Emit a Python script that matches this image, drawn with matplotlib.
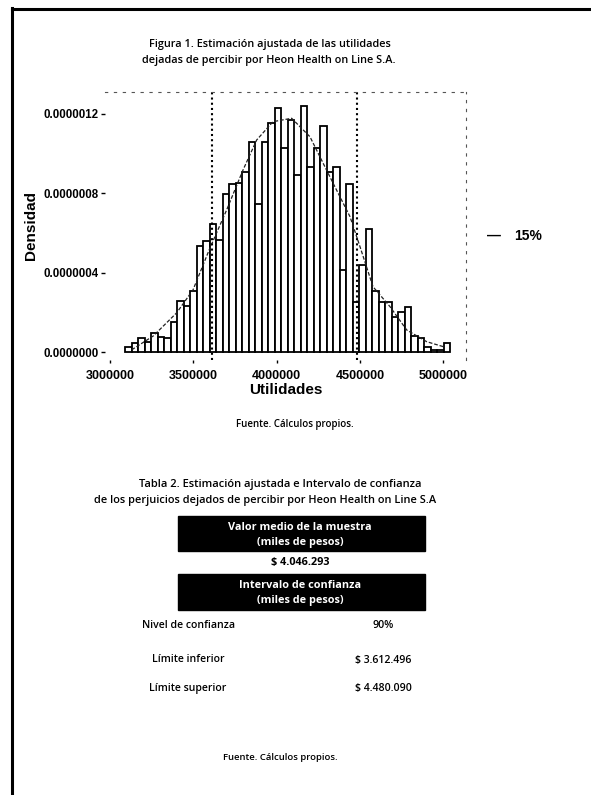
import numpy as np
import matplotlib
matplotlib.use("Agg")
import matplotlib.pyplot as plt
from matplotlib.patches import Rectangle
from matplotlib.lines import Line2D

# Histograma de utilidades (densidad, en unidades de 1e-7)
bin_start = 3090000
bin_width = 39000
dens = [0.25, 0.45, 0.75, 0.50, 1.00, 0.80, 0.75, 1.51, 2.56, 2.31,
        3.11, 5.37, 5.62, 6.43, 5.67, 7.98, 8.48, 8.53, 9.04, 10.59,
        7.48, 10.59, 11.50, 12.30, 10.29, 11.65, 8.89, 12.40, 9.29, 10.29,
        11.35, 9.04, 9.29, 4.12, 8.48, 2.51, 4.37, 6.22, 3.11, 2.51,
        2.51, 1.76, 2.01, 2.26, 0.85, 0.70, 0.25, 0.10, 0.10, 0.45]

# curva ajustada
curve_x = [3130000, 3260000, 3400000, 3498000, 3600000, 3700000, 3798000,
           3880000, 3978000, 4090000, 4200000, 4248000, 4338000, 4440000,
           4500000, 4578000, 4680000, 4780000, 4900000, 5000000]
curve_y = [0.13, 0.83, 1.99, 3.14, 5.25, 7.16, 9.16, 10.67, 11.59, 11.76,
           10.83, 10.02, 8.51, 6.82, 5.31, 3.30, 2.30, 1.13, 0.54, 0.29]

ci_low = 3612496
ci_high = 4480090

xticks = [3000000, 3500000, 4000000, 4500000, 5000000]
yticks = [0, 0.0000004, 0.0000008, 0.0000012]
ytick_labels = ["0.0000000", "0.0000004", "0.0000008", "0.0000012"]

W, H = 591, 795
def fx(x):
    return x / W
def fy(y):
    return 1 - y / H

TXT = "Open Sans"
NUM = "Liberation Sans"

fig = plt.figure(figsize=(5.91, 7.95), dpi=100)

ax = fig.add_axes([fx(105), fy(360), fx(466) - fx(105), fy(92) - fy(360)])
edges = bin_start + bin_width * np.arange(len(dens) + 1)
ax.bar(edges[:-1], np.array(dens) * 1e-7, width=bin_width, align="edge",
       color="white", edgecolor="black", linewidth=1.3)
ax.plot(curve_x, np.array(curve_y) * 1e-7, color="#222222", lw=0.9,
        linestyle=(0, (3, 1.5)))
for v in (ci_low, ci_high):
    ax.axvline(v, color="black", lw=1.5, linestyle=(0, (1, 1.5)))

ax.set_xlim(2970000, 5136000)
ax.set_ylim(-0.000000038, 0.000001308)
ax.set_xticks(xticks)
ax.set_xticklabels([str(t) for t in xticks], fontfamily=NUM,
                   fontweight="bold", fontsize=9)
ax.set_yticks(yticks)
ax.set_yticklabels(ytick_labels, fontfamily=NUM, fontweight="bold",
                   fontsize=8.3)
ax.tick_params(axis="y", length=3, width=1, pad=1.5)
ax.tick_params(axis="x", length=2, width=1, pad=5)
for s in ("left", "bottom"):
    ax.spines[s].set_visible(False)
for s in ("top", "right"):
    ax.spines[s].set_linestyle((0, (2, 6)))
    ax.spines[s].set_color("#555555")
    ax.spines[s].set_linewidth(0.8)

ax.set_xlabel("Utilidades", fontfamily=NUM, fontweight="bold",
              fontsize=11, labelpad=1)
ax.set_ylabel("Densidad", fontfamily=NUM, fontweight="bold",
              fontsize=11, labelpad=4)

# titulo figura
fig.text(fx(270), fy(44), "Figura 1. Estimación ajustada de las utilidades",
         ha="center", va="center", fontfamily=TXT, fontweight="semibold",
         fontsize=7.8)
fig.text(fx(269), fy(60), "dejadas de percibir por Heon Health on Line S.A.",
         ha="center", va="center", fontfamily=TXT, fontweight="semibold",
         fontsize=7.8)
fig.text(fx(487), fy(236), "—", ha="left", va="center", fontfamily=NUM,
         fontweight="bold", fontsize=10)
fig.text(fx(514), fy(236), "15%", ha="left", va="center", fontfamily=NUM,
         fontweight="bold", fontsize=10)

fig.text(fx(295), fy(425), "Fuente. Cálculos propios.", ha="center",
         va="center", fontfamily=TXT, fontweight="semibold", fontsize=7)

# tabla 2
fig.text(fx(280), fy(484), "Tabla 2. Estimación ajustada e Intervalo de confianza",
         ha="center", va="center", fontfamily=TXT, fontweight="semibold",
         fontsize=8)
fig.text(fx(265), fy(500),
         "de los perjuicios dejados de percibir por Heon Health on Line S.A",
         ha="center", va="center", fontfamily=TXT, fontweight="semibold",
         fontsize=7.9)

for top, bot, l1, l2 in [(516, 551, "Valor medio de la muestra", "(miles de pesos)"),
                         (574, 610, "Intervalo de confianza", "(miles de pesos)")]:
    fig.patches.append(Rectangle((fx(178), fy(bot)), fx(425) - fx(178),
                                 fy(top) - fy(bot), transform=fig.transFigure,
                                 facecolor="black", edgecolor="black"))
    cx = fx(300)
    fig.text(cx, fy(top + 11), l1, ha="center", va="center", color="white",
             fontfamily=TXT, fontweight="bold", fontsize=7.8)
    fig.text(cx, fy(top + 26), l2, ha="center", va="center", color="white",
             fontfamily=TXT, fontweight="bold", fontsize=7.8)

fig.text(fx(300), fy(563), "$ 4.046.293", ha="center", va="center",
         fontfamily=TXT, fontweight="bold", fontsize=7.8)

rows = [("Nivel de confianza", "90%"),
        ("Límite inferior", "$ 3.612.496"),
        ("Límite superior", "$ 4.480.090")]
row_y = [625, 660, 688]
for (lab, val), y in zip(rows, row_y):
    fig.text(fx(188), fy(y), lab, ha="center", va="center", fontfamily=TXT,
             fontweight="semibold", fontsize=7.6)
    fig.text(fx(383), fy(y), val, ha="center", va="center", fontfamily=TXT,
             fontweight="semibold", fontsize=7.6)

fig.text(fx(280), fy(758), "Fuente. Cálculos propios.", ha="center",
         va="center", fontfamily=TXT, fontweight="semibold", fontsize=6.8)

# marco de la pagina escaneada
fig.add_artist(Line2D([fx(12), fx(12)], [fy(8), 0], transform=fig.transFigure,
                      color="black", lw=2.2))
fig.add_artist(Line2D([fx(12), 1], [fy(9), fy(9)], transform=fig.transFigure,
                      color="black", lw=2.2))

fig.savefig("out.png", dpi=100, facecolor="white")
